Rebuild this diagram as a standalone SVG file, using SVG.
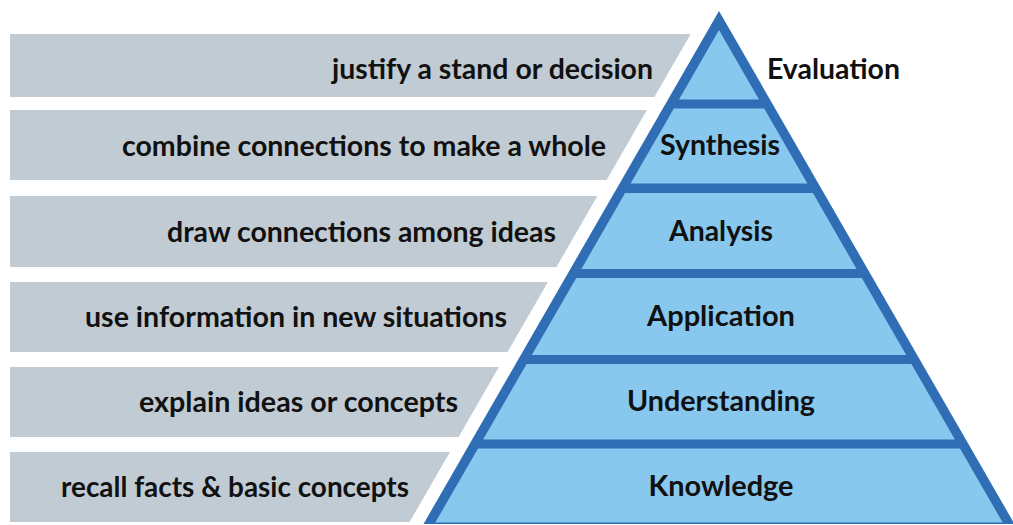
<svg xmlns="http://www.w3.org/2000/svg" width="1013" height="525" viewBox="0 0 1013 525">
<style>
.bar{fill:#c1cbd3}
.lvl{fill:#88c8ee}
.edge{fill:#2f6db5}
text{font-family:Lato,"Open Sans","Liberation Sans",sans-serif;font-weight:700;font-size:28.5px;fill:#111}
.r{text-anchor:end}
.c{text-anchor:middle}
</style>
<rect width="1013" height="525" fill="#ffffff"/>
<g id="bars">
<g id="bar1"><polygon class="bar" points="10,34 690.7,34 654.4,97 10,97"/><text class="r" x="653" y="79" textLength="321" lengthAdjust="spacingAndGlyphs">justify a stand or decision</text></g>
<g id="bar2"><polygon class="bar" points="10,110 646.9,110 606.6,180 10,180"/><text class="r" x="606" y="156" textLength="484" lengthAdjust="spacingAndGlyphs">combine connections to make a whole</text></g>
<g id="bar3"><polygon class="bar" points="10,196 597.4,196 556.5,267 10,267"/><text class="r" x="556" y="242" textLength="389" lengthAdjust="spacingAndGlyphs">draw connections among ideas</text></g>
<g id="bar4"><polygon class="bar" points="10,282 547.9,282 507.5,352 10,352"/><text class="r" x="507" y="327" textLength="422" lengthAdjust="spacingAndGlyphs">use information in new situations</text></g>
<g id="bar5"><polygon class="bar" points="10,367 498.9,367 458.6,437 10,437"/><text class="r" x="458" y="412" textLength="319" lengthAdjust="spacingAndGlyphs">explain ideas or concepts</text></g>
<g id="bar6"><polygon class="bar" points="10,452 450,452 409.6,522 10,522"/><text class="r" x="409" y="497" textLength="348" lengthAdjust="spacingAndGlyphs">recall facts &amp; basic concepts</text></g>
</g>
<g id="pyramid">
<polygon class="edge" points="719,11 1014.5,524 423.5,524"/>
<g id="evaluation"><polygon class="lvl" points="719,30 759,99.5 679,99.5"/><text x="767" y="79" textLength="133" lengthAdjust="spacingAndGlyphs">Evaluation</text></g>
<g id="synthesis"><polygon class="lvl" points="673.8,108.5 764.2,108.5 807.4,183.5 630.6,183.5"/><text class="c" x="720" y="155" textLength="120" lengthAdjust="spacingAndGlyphs">Synthesis</text></g>
<g id="analysis"><polygon class="lvl" points="625.1,193 812.9,193 856.6,269 581.4,269"/><text class="c" x="721" y="241" textLength="104" lengthAdjust="spacingAndGlyphs">Analysis</text></g>
<g id="application"><polygon class="lvl" points="576.2,278 861.8,278 906.2,355 531.8,355"/><text class="c" x="721" y="326" textLength="148" lengthAdjust="spacingAndGlyphs">Application</text></g>
<g id="understanding"><polygon class="lvl" points="526.6,364 911.4,364 954.9,439.5 483.1,439.5"/><text class="c" x="721" y="411" textLength="188" lengthAdjust="spacingAndGlyphs">Understanding</text></g>
<g id="knowledge"><polygon class="lvl" points="478,448.5 960,448.5 1002.7,522.5 435.3,522.5"/><text class="c" x="721" y="496" textLength="145" lengthAdjust="spacingAndGlyphs">Knowledge</text></g>
</g>
</svg>
